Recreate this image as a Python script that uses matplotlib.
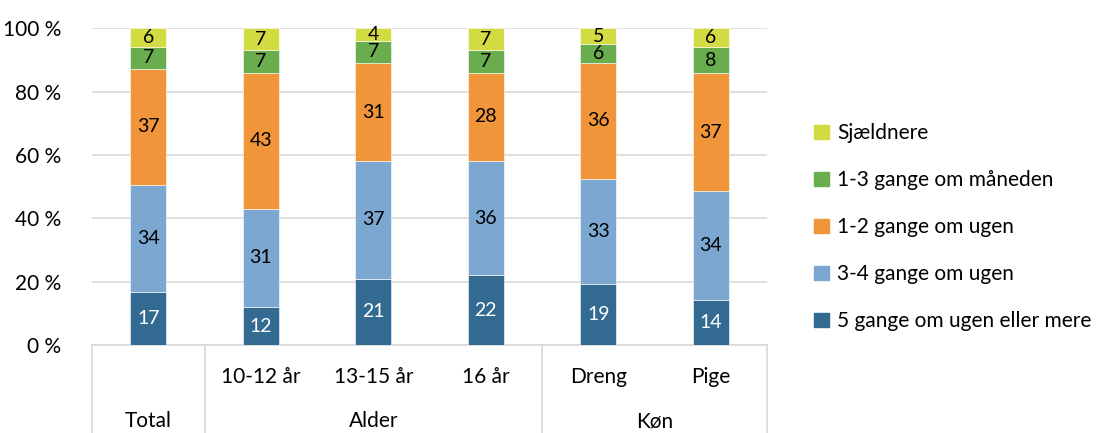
import numpy as np
import matplotlib.pyplot as plt
from matplotlib.patches import Patch

plt.rcParams['font.family'] = ['Lato', 'DejaVu Sans']

categories = ['Total', '10-12 år', '13-15 år', '16 år', 'Dreng', 'Pige']
groups = ['', 'Alder', 'Alder', 'Alder', 'Køn', 'Køn']
series = ['5 gange om ugen eller mere', '3-4 gange om ugen', '1-2 gange om ugen',
          '1-3 gange om måneden', 'Sjældnere']
values = np.array([
    [17, 12, 21, 22, 19, 14],
    [34, 31, 37, 36, 33, 34],
    [37, 43, 31, 28, 36, 37],
    [7, 7, 7, 7, 6, 8],
    [6, 7, 4, 7, 5, 6],
])
colors = ['#336A92', '#7BA7D0', '#F0953A', '#6AAD4F', '#D3DB43']
text_colors = ['white', 'black', 'black', 'black', 'black']

# scale each column so the bar fills 100 %
shares = values / values.sum(axis=0) * 100

fig = plt.figure(figsize=(11.02, 4.33), dpi=100)
ax = fig.add_axes([0.0835, 0.203, 0.6125, 0.732])

x = np.arange(len(categories))
bottom = np.zeros(len(categories))
for i in range(len(series)):
    ax.bar(x, shares[i], 0.32, bottom=bottom, color=colors[i], zorder=3,
           edgecolor='white', linewidth=0.4)
    for j in range(len(categories)):
        ax.text(x[j], bottom[j] + shares[i][j] / 2, str(values[i][j]),
                ha='center', va='center', fontsize=14, color=text_colors[i], zorder=4)
    bottom += shares[i]

ax.set_xlim(-0.5, len(categories) - 0.5)
ax.set_ylim(0, 100)
ax.set_yticks(np.arange(0, 101, 20))
ax.set_yticklabels([f'{v} %' for v in range(0, 101, 20)], fontsize=15)
ax.tick_params(axis='y', length=0, pad=22)
ax.set_xticks([])
ax.grid(axis='y', color='#D9D9D9', linewidth=1.2, zorder=0)
for s in ['left', 'right', 'top']:
    ax.spines[s].set_visible(False)
ax.spines['bottom'].set_color('#D9D9D9')
ax.spines['bottom'].set_linewidth(1.2)

# multi-level category axis
trans = ax.get_xaxis_transform()
for j, c in enumerate(categories):
    if groups[j] == '':
        ax.text(x[j], -0.24, c, transform=trans, ha='center', va='center', fontsize=15)
    else:
        ax.text(x[j], -0.10, c, transform=trans, ha='center', va='center', fontsize=15)
for g in ['Alder', 'Køn']:
    idx = [j for j in range(len(groups)) if groups[j] == g]
    ax.text(np.mean(x[idx]), -0.24, g, transform=trans, ha='center', va='center', fontsize=15)
for b in [-0.5, 0.5, 3.5, 5.5]:
    ax.plot([b, b], [0, -0.3], transform=trans, color='#D9D9D9', linewidth=1.2, clip_on=False)

handles = [Patch(color=colors[i], label=series[i]) for i in range(len(series))][::-1]
fig.legend(handles=handles, loc='center left', bbox_to_anchor=(0.722, 0.475), frameon=False,
           fontsize=15, handlelength=0.7, handleheight=0.7, handletextpad=0.4,
           labelspacing=1.3)

fig.savefig('out.png', dpi=100)
